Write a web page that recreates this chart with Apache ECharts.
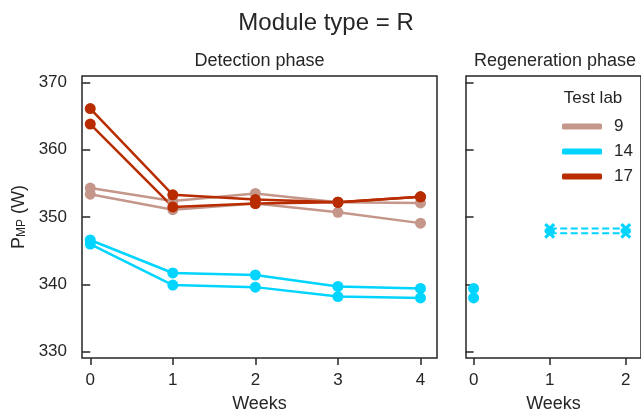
<!DOCTYPE html>
<html>
<head>
<meta charset="utf-8">
<script src="https://cdn.jsdelivr.net/npm/echarts@6/dist/echarts.min.js"></script>
<style>
  html, body { margin: 0; padding: 0; background: #fff; }
  #chart { width: 641px; height: 418px; }
</style>
</head>
<body>
<div id="chart"></div>
<script>
  // data
  var weeks = [0, 1, 2, 3, 4]
  var lab9a = [354.3, 352.4, 353.5, 352.2, 352.1]
  var lab9b = [353.4, 351.1, 352.0, 350.7, 349.1]
  var lab14a = [346.6, 341.7, 341.4, 339.7, 339.4]
  var lab14b = [346.0, 339.9, 339.6, 338.2, 338.0]
  var lab17a = [366.1, 353.3, 352.6, 352.2, 353.0]
  var lab17b = [363.8, 351.5, 352.0, 352.2, 353.0]
  var regenWeeks = [1, 2]
  var regen14Start = [339.4, 338.0]   // week 0 points
  var regen14a = [348.3, 348.3]
  var regen14b = [347.6, 347.6]
  var detectTicks = [0, 1, 2, 3, 4]
  var regenTicks = [0, 1, 2]
  var yTicks = [330, 340, 350, 360, 370]
  var labs = ['9', '14', '17']

  var colors = { '9': '#C4978A', '14': '#00D4FF', '17': '#B82C00' }
  var font = 'Liberation Sans, Arial, sans-serif'
  var ink = '#262626'
  var xMark = 'path://M0,2 L2,0 L5,3 L8,0 L10,2 L7,5 L10,8 L8,10 L5,7 L2,10 L0,8 L3,5 Z'

  function pairs (xs, ys) {
    return xs.map(function (x, i) { return [x, ys[i]] })
  }

  function solid (name, vals) {
    return {
      name: name,
      type: 'line',
      xAxisIndex: 0,
      yAxisIndex: 0,
      data: pairs(weeks, vals),
      color: colors[name],
      symbol: 'circle',
      symbolSize: 11,
      lineStyle: { width: 2.5 },
      animation: false
    }
  }

  function xAxisCfg (idx, min, max, ticks) {
    return {
      type: 'value',
      gridIndex: idx,
      min: min,
      max: max,
      name: 'Weeks',
      nameLocation: 'middle',
      nameGap: 37,
      nameTextStyle: { fontSize: 18, color: ink, fontFamily: font },
      axisLine: { show: false },
      splitLine: { show: false },
      axisTick: { show: true, length: 7, lineStyle: { color: ink, width: 1.5 }, customValues: ticks },
      axisLabel: { fontSize: 17, color: ink, fontFamily: font, margin: 14, customValues: ticks }
    }
  }

  function yAxisCfg (idx, showLabels) {
    var ax = {
      type: 'value',
      gridIndex: idx,
      min: 329.08,
      max: 370.94,
      axisLine: { show: false },
      splitLine: { show: false },
      axisTick: { show: true, length: 8, lineStyle: { color: ink, width: 1.5 }, customValues: yTicks },
      axisLabel: { show: showLabels, fontSize: 17, color: ink, fontFamily: font, margin: 15, customValues: yTicks }
    }
    if (showLabels) {
      ax.name = '{p|P}{s|MP}{p| (W)}'
      ax.nameLocation = 'middle'
      ax.nameGap = 52
      ax.nameTextStyle = {
        color: ink,
        fontFamily: font,
        rich: {
          p: { fontSize: 18, lineHeight: 24, color: ink, fontFamily: font, verticalAlign: 'bottom' },
          s: { fontSize: 12, lineHeight: 12, color: ink, fontFamily: font, verticalAlign: 'bottom' }
        }
      }
    }
    return ax
  }

  var series = [
    solid('9', lab9a), solid('9', lab9b),
    solid('14', lab14a), solid('14', lab14b),
    solid('17', lab17a), solid('17', lab17b)
  ]

  regen14Start.forEach(function (v) {
    series.push({
      name: '14',
      type: 'line',
      xAxisIndex: 1,
      yAxisIndex: 1,
      data: [[0, v]],
      color: colors['14'],
      symbol: 'circle',
      symbolSize: 11,
      animation: false
    })
  })
  ;[regen14a, regen14b].forEach(function (vals) {
    series.push({
      name: '14',
      type: 'line',
      xAxisIndex: 1,
      yAxisIndex: 1,
      data: pairs(regenWeeks, vals),
      color: colors['14'],
      symbol: xMark,
      symbolSize: 11,
      lineStyle: { width: 2, type: [7, 3.5] },
      animation: false
    })
  })

  var chart = echarts.init(document.getElementById('chart'))
  chart.setOption({
    backgroundColor: '#fff',
    animation: false,
    textStyle: { fontFamily: font },
    grid: [
      { left: 82, top: 76, width: 355, height: 288, show: true, borderColor: ink, borderWidth: 1.5 },
      { left: 466, top: 76, width: 177, height: 288, show: true, borderColor: ink, borderWidth: 1.5 }
    ],
    xAxis: [xAxisCfg(0, -0.1, 4.2, detectTicks), xAxisCfg(1, -0.1, 2.2, regenTicks)],
    yAxis: [yAxisCfg(0, true), yAxisCfg(1, false)],
    legend: {
      data: labs,
      orient: 'vertical',
      left: 557,
      top: 113,
      icon: 'roundRect',
      itemWidth: 40,
      itemHeight: 6,
      itemGap: 8,
      selectedMode: false,
      textStyle: { fontSize: 17, lineHeight: 17, color: ink, fontFamily: font, padding: [0, 0, 0, 7] }
    },
    graphic: [
      { type: 'text', x: 326, y: 23, style: { text: 'Module type = R', fontSize: 24, fill: ink, fontFamily: font, align: 'center', verticalAlign: 'middle' } },
      { type: 'text', x: 259.5, y: 61, style: { text: 'Detection phase', fontSize: 18, fill: ink, fontFamily: font, align: 'center', verticalAlign: 'middle' } },
      { type: 'text', x: 555, y: 61, style: { text: 'Regeneration phase', fontSize: 18, fill: ink, fontFamily: font, align: 'center', verticalAlign: 'middle' } },
      { type: 'text', x: 593, y: 98, style: { text: 'Test lab', fontSize: 17, fill: ink, fontFamily: font, align: 'center', verticalAlign: 'middle' } }
    ],
    series: series
  })
</script>
</body>
</html>
